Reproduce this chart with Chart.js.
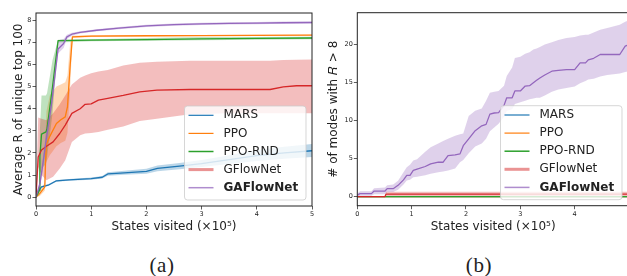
<!DOCTYPE html>
<html>
<head>
<meta charset="utf-8">
<script src="https://cdn.jsdelivr.net/npm/chart.js@4.4.1/dist/chart.umd.min.js"></script>
<style>
  html, body { margin: 0; padding: 0; background: #fff; overflow: hidden; width: 627px; height: 276px; position: relative; }
  canvas { position: absolute; top: 0; }
  #chartA { left: 0; }
  #chartB { left: 320px; }
  .caption { position: absolute; top: 253px; width: 60px; text-align: center; font-family: 'Liberation Serif', serif; font-size: 21px; letter-spacing: 0.6px; line-height: 24px; color: #222; }
</style>
</head>
<body>
<canvas id="chartA" width="320" height="240"></canvas>
<canvas id="chartB" width="320" height="240"></canvas>
<div class="caption" style="left:132px">(a)</div>
<div class="caption" style="left:449px">(b)</div>
<script>
// --- DATA ---
const seriesNames = ['MARS', 'PPO', 'PPO-RND', 'GFlowNet', 'GAFlowNet'];
const seriesColors = ['#1f77b4', '#ff7f0e', '#2ca02c', '#d62728', '#9467bd'];

// panel (a): states visited (x1e5) vs average R of unique top 100
const aMarsX  = [0, 0.05, 0.1, 0.22, 0.37, 0.6, 1.0, 1.2, 1.3, 1.6, 2.0, 2.2, 2.6, 3.0, 3.5, 4.0, 4.5, 5.0];
const aMarsY  = [0, 0.3, 0.47, 0.54, 0.74, 0.78, 0.84, 0.9, 1.05, 1.1, 1.17, 1.3, 1.4, 1.52, 1.7, 1.88, 2.0, 2.1];
const aMarsLo = [0, 0.28, 0.44, 0.5, 0.7, 0.74, 0.79, 0.84, 0.97, 1.01, 1.06, 1.17, 1.26, 1.36, 1.5, 1.63, 1.74, 1.82];
const aMarsHi = [0, 0.32, 0.5, 0.58, 0.78, 0.82, 0.89, 0.96, 1.13, 1.19, 1.28, 1.43, 1.54, 1.68, 1.9, 2.13, 2.28, 2.4];

const aPpoX  = [0, 0.07, 0.16, 0.17, 0.19, 0.25, 0.37, 0.45, 0.53, 0.57, 0.62, 0.66, 1.0, 2.0, 3.0, 4.0, 5.0];
const aPpoY  = [0, 0.17, 0.47, 1.5, 2.4, 2.75, 3.33, 3.5, 3.63, 4.08, 6.0, 7.25, 7.28, 7.3, 7.31, 7.32, 7.33];
const aPpoLo = [0, 0.05, 0.3, 0.8, 1.6, 1.9, 2.3, 2.45, 2.55, 2.9, 5.0, 7.2, 7.24, 7.27, 7.29, 7.3, 7.31];
const aPpoHi = [0, 0.3, 0.65, 2.5, 3.9, 4.6, 5.0, 5.1, 5.2, 5.5, 7.0, 7.3, 7.32, 7.33, 7.34, 7.35, 7.36];

const aRndX  = [0, 0.06, 0.07, 0.1, 0.18, 0.2, 0.3, 0.4, 1.0, 2.0, 3.0, 4.0, 5.0];
const aRndY  = [0, 0.3, 1.82, 2.85, 2.95, 3.1, 5.0, 7.08, 7.1, 7.13, 7.16, 7.18, 7.2];
const aRndLo = [0, 0.1, 1.0, 1.3, 1.5, 1.8, 3.8, 7.0, 7.05, 7.08, 7.1, 7.12, 7.14];
const aRndHi = [0, 0.5, 3.0, 4.6, 4.6, 4.7, 6.2, 7.12, 7.14, 7.2, 7.24, 7.25, 7.26];

const aGfnX  = [0, 0.04, 0.1, 0.19, 0.31, 0.43, 0.53, 0.65, 0.8, 0.89, 1.0, 1.13, 1.3, 1.58, 1.88, 2.19, 2.79, 3.5, 4.24, 4.48, 4.72, 5.0];
const aGfnY  = [0, 1.82, 2.13, 2.3, 2.5, 2.88, 3.26, 3.79, 4.0, 4.2, 4.22, 4.39, 4.47, 4.6, 4.76, 4.84, 4.87, 4.87, 4.87, 4.99, 5.04, 5.04];
const aGfnLo = [0, 1.37, 1.0, 0.77, 0.92, 1.3, 1.67, 2.5, 2.8, 2.88, 2.9, 2.95, 3.05, 3.2, 3.45, 3.55, 3.75, 3.8, 3.8, 3.8, 3.8, 3.8];
const aGfnHi = [0, 3.6, 3.55, 3.48, 3.8, 4.2, 4.6, 5.1, 5.4, 5.5, 5.6, 5.68, 5.75, 5.95, 6.08, 6.13, 6.17, 6.17, 6.17, 6.2, 6.22, 6.23];

const aGafnX  = [0, 0.07, 0.13, 0.19, 0.28, 0.4, 0.5, 0.56, 0.65, 0.8, 1.1, 1.5, 2.0, 2.5, 3.0, 3.5, 4.0, 4.5, 5.0];
const aGafnY  = [0, 0.6, 1.6, 2.7, 4.2, 6.7, 6.95, 7.25, 7.37, 7.45, 7.55, 7.65, 7.75, 7.8, 7.84, 7.86, 7.87, 7.89, 7.9];
const aGafnLo = [0, 0.4, 1.3, 2.3, 3.8, 6.5, 6.75, 7.15, 7.3, 7.4, 7.5, 7.6, 7.7, 7.75, 7.79, 7.81, 7.82, 7.84, 7.85];
const aGafnHi = [0, 0.8, 1.9, 3.1, 4.6, 7.1, 7.15, 7.35, 7.44, 7.5, 7.6, 7.7, 7.8, 7.85, 7.89, 7.91, 7.92, 7.94, 7.95];

// panel (b): states visited (x1e5) vs number of modes with R > 8
const bZeroX = [0, 5];
const bZeroY = [0, 0];

const bGfnX  = [0, 0.51, 0.53, 5];
const bGfnY  = [0, 0, 0.33, 0.33];
const bGfnLo = [0, 0, 0.05, 0.05];
const bGfnHi = [0, 0, 0.62, 0.62];

const bGafnX  = [0, 0.05, 0.26, 0.31, 0.51, 0.55, 0.66, 0.75, 0.85, 0.91, 0.97, 1.03, 1.1, 1.25, 1.35, 1.49, 1.58, 1.67, 1.8, 1.89, 1.95, 2.05, 2.17, 2.29, 2.37, 2.44, 2.52, 2.6, 2.7, 2.75, 2.85, 2.9, 3.0, 3.09, 3.17, 3.24, 3.3, 3.36, 3.45, 3.58, 3.7, 3.85, 4.0, 4.1, 4.2, 4.25, 4.35, 4.47, 4.6, 4.83, 4.93, 5.0];
const bGafnY  = [0.2, 0.39, 0.39, 0.73, 0.73, 1.04, 1.04, 1.48, 2.2, 2.78, 2.78, 3.44, 3.6, 3.96, 4.3, 4.52, 4.52, 5.4, 5.5, 5.62, 6.7, 7.6, 8.67, 9.32, 9.5, 10.85, 11.0, 11.06, 12.0, 13.0, 13.0, 13.9, 13.9, 14.55, 14.6, 14.98, 15.3, 15.6, 16.0, 16.5, 16.6, 16.7, 16.7, 17.6, 17.6, 18.0, 18.2, 18.7, 18.7, 18.7, 19.8, 20.0];
const bGafnLo = [0, 0.1, 0.1, 0.3, 0.3, 0.6, 0.6, 0.9, 1.6, 2.13, 2.2, 2.56, 2.6, 2.8, 3.0, 3.2, 3.3, 3.44, 3.7, 4.52, 4.8, 5.7, 6.6, 7.0, 7.6, 8.6, 9.1, 9.6, 10.5, 11.28, 11.5, 12.2, 12.4, 12.6, 12.8, 12.9, 13.0, 13.0, 13.3, 13.8, 14.1, 14.3, 14.5, 14.9, 15.2, 15.4, 15.5, 15.8, 16.0, 16.2, 16.4, 16.5];
const bGafnHi = [0.4, 0.7, 0.7, 1.1, 1.2, 1.5, 1.6, 2.1, 3.2, 3.87, 4.2, 4.74, 4.9, 5.9, 6.48, 7.0, 7.3, 7.6, 8.0, 8.2, 8.3, 10.6, 11.3, 11.6, 12.6, 13.67, 13.8, 13.9, 14.6, 15.86, 17.0, 18.25, 18.4, 18.8, 19.0, 19.35, 19.5, 19.7, 20.0, 20.3, 20.6, 20.86, 21.0, 21.2, 21.3, 21.3, 21.6, 21.96, 22.2, 22.6, 23.0, 23.2];

// ticks
const xTicks = [0, 1, 2, 3, 4, 5];
const aYTicks = [0, 1, 2, 3, 4, 5, 6, 7, 8];
const bYTicks = [0, 5, 10, 15, 20];

// --- HELPERS ---
function toPoints(xs, ys) {
    return xs.map((x, i) => ({ x: x, y: ys[i] }));
}

function withAlpha(hex, a) {
    const n = parseInt(hex.slice(1), 16);
    return `rgba(${(n >> 16) & 255}, ${(n >> 8) & 255}, ${n & 255}, ${a})`;
}

function font(size, weight) {
    return { family: "'DejaVu Sans', sans-serif", size: size, weight: weight || 'normal' };
}

// bands first (under everything, like matplotlib's fill_between), then lines in series order
function buildDatasets(runs) {
    const sets = [];
    runs.forEach((r, i) => {
        sets.push({ data: toPoints(r.x, r.lo), borderWidth: 0, pointRadius: 0, fill: false });
        sets.push({ data: toPoints(r.x, r.hi), borderWidth: 0, pointRadius: 0, fill: '-1',
                    backgroundColor: withAlpha(seriesColors[i], 0.3) });
    });
    runs.forEach((r, i) => {
        sets.push({ label: seriesNames[i], data: toPoints(r.x, r.y), borderColor: seriesColors[i],
                    borderWidth: 1.3, pointRadius: 0, fill: false, borderJoinStyle: 'round' });
    });
    sets.forEach((s, k) => { s.order = sets.length - k; });
    return sets;
}

function makeScales(c) {
    return {
        x: {
            type: 'linear', min: 0, max: 5,
            afterBuildTicks: s => { s.ticks = xTicks.map(v => ({ value: v })); },
            afterFit: s => { s.height = c.xHeight; },
            ticks: { font: font(6.5), color: '#222', padding: 1, maxRotation: 0, autoSkip: false },
            grid: { drawOnChartArea: false, drawTicks: true, tickLength: 3.5, color: '#333', lineWidth: 0.8 },
            border: { display: false },
            title: { display: true, text: 'States visited (×10⁵)', font: font(12), color: '#222', padding: { top: 0, bottom: 5.8 } }
        },
        y: {
            type: 'linear', min: c.yMin, max: c.yMax,
            afterBuildTicks: s => { s.ticks = c.yTicks.map(v => ({ value: v })); },
            afterFit: s => { s.width = c.yWidth; },
            ticks: { font: font(6.5), color: '#222', padding: 1, autoSkip: false },
            grid: { drawOnChartArea: false, drawTicks: true, tickLength: 3.5, color: '#333', lineWidth: 0.8 },
            border: { display: false },
            title: { display: true, text: c.yTitle, font: font(12), color: '#222', padding: { top: c.yTitlePad, bottom: 0 } }
        }
    };
}

// --- FRAME & LEGEND PLUGIN ---
const legendHandles = [
    { width: 1.2, alpha: 1 },
    { width: 1.2, alpha: 1 },
    { width: 1.5, alpha: 1 },
    { width: 3, alpha: 0.5 },
    { width: 1.5, alpha: 0.75 }
];

const frameLegend = {
    id: 'frameLegend',
    afterDatasetsDraw(chart, args, opts) {
        const { ctx, chartArea: a } = chart;
        ctx.save();
        ctx.strokeStyle = '#222';
        ctx.lineWidth = 1;
        ctx.strokeRect(a.left, a.top, a.right - a.left, a.bottom - a.top);

        const w = 121.5, h = 94;
        const x0 = a.right - opts.inset - w, y0 = a.bottom - 6 - h;
        ctx.beginPath();
        ctx.roundRect(x0, y0, w, h, 3);
        ctx.fillStyle = 'rgba(255,255,255,0.8)';
        ctx.fill();
        ctx.strokeStyle = 'rgba(204,204,204,0.8)';
        ctx.lineWidth = 1;
        ctx.stroke();

        seriesNames.forEach((name, i) => {
            const cy = y0 + 9.3 + i * 18.1;
            const hs = legendHandles[i];
            ctx.beginPath();
            ctx.moveTo(x0 + 4, cy);
            ctx.lineTo(x0 + 29, cy);
            ctx.strokeStyle = withAlpha(seriesColors[i], hs.alpha);
            ctx.lineWidth = hs.width;
            ctx.stroke();
            ctx.fillStyle = '#222';
            ctx.textBaseline = 'middle';
            ctx.textAlign = 'left';
            ctx.font = (name === 'GAFlowNet' ? 'bold ' : '') + "12px 'DejaVu Sans', sans-serif";
            ctx.fillText(name, x0 + 39, cy);
        });
        ctx.restore();
    }
};

// --- CHARTS ---
function makeChart(id, runs, c) {
    return new Chart(document.getElementById(id), {
        type: 'line',
        data: { datasets: buildDatasets(runs) },
        options: {
            responsive: false, animation: false, devicePixelRatio: 1,
            layout: { padding: c.padding },
            scales: makeScales(c),
            plugins: { legend: { display: false }, tooltip: { enabled: false }, frameLegend: { inset: c.legendInset } },
            elements: { line: { tension: 0 } }
        },
        plugins: [frameLegend]
    });
}

const runsA = [
    { x: aMarsX, y: aMarsY, lo: aMarsLo, hi: aMarsHi },
    { x: aPpoX, y: aPpoY, lo: aPpoLo, hi: aPpoHi },
    { x: aRndX, y: aRndY, lo: aRndLo, hi: aRndHi },
    { x: aGfnX, y: aGfnY, lo: aGfnLo, hi: aGfnHi },
    { x: aGafnX, y: aGafnY, lo: aGafnLo, hi: aGafnHi }
];

const runsB = [
    { x: bZeroX, y: bZeroY, lo: bZeroY, hi: bZeroY },
    { x: bZeroX, y: bZeroY, lo: bZeroY, hi: bZeroY },
    { x: bZeroX, y: bZeroY, lo: bZeroY, hi: bZeroY },
    { x: bGfnX, y: bGfnY, lo: bGfnLo, hi: bGfnHi },
    { x: bGafnX, y: bGafnY, lo: bGafnLo, hi: bGafnHi }
];

makeChart('chartA', runsA, {
    padding: { left: 0, top: 13, right: 8, bottom: 0 },
    yWidth: 36, xHeight: 34, yMin: -0.4, yMax: 8.33, yTicks: aYTicks,
    yTitle: 'Average R of unique top 100', yTitlePad: 11.4, legendInset: 6
});

makeChart('chartB', runsB, {
    padding: { left: 0, top: 12.7, right: 11, bottom: 0 },
    yWidth: 37.3, xHeight: 34.3, yMin: -1.2, yMax: 24.2, yTicks: bYTicks,
    yTitle: '# of modes with 𝑅 > 8', yTitlePad: 6.6, legendInset: 7
});
</script>
</body>
</html>
